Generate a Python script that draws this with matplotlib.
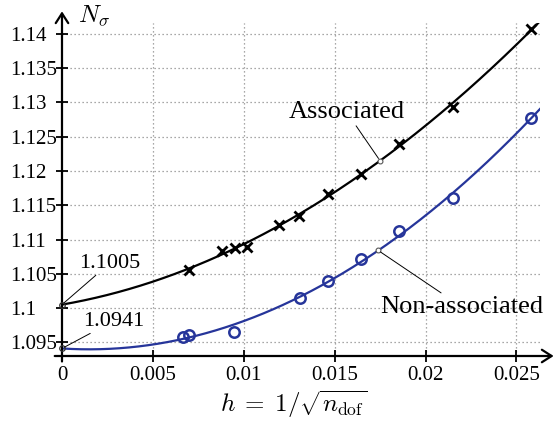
import numpy as np
import matplotlib
matplotlib.use("Agg")
import matplotlib.pyplot as plt

plt.rcParams["font.family"] = ["Liberation Serif", "DejaVu Serif"]
plt.rcParams["mathtext.fontset"] = "cm"

# Mesh size h = 1/sqrt(n_dof) and computed N_sigma values
h_assoc = [0.00699, 0.00882, 0.00952, 0.01016, 0.01194, 0.01305,
           0.01461, 0.01645, 0.01855, 0.02149, 0.02580]
n_assoc = [1.1056, 1.1083, 1.1088, 1.1089, 1.1121, 1.1134,
           1.1167, 1.1196, 1.1239, 1.1293, 1.1407]

h_nonassoc = [0.00664, 0.00699, 0.00948, 0.01309, 0.01461, 0.01645,
              0.01854, 0.02152, 0.02580]
n_nonassoc = [1.0958, 1.0961, 1.0965, 1.1014, 1.1040, 1.1072,
              1.1112, 1.1160, 1.1278]

# Extrapolated limits (h -> 0)
lim_assoc = 1.1005
lim_nonassoc = 1.0941

xticks = [0, 0.005, 0.01, 0.015, 0.02, 0.025]
xticklabels = ["0", "0.005", "0.01", "0.015", "0.02", "0.025"]
yticks = [1.095, 1.1, 1.105, 1.11, 1.115, 1.12, 1.125, 1.13, 1.135, 1.14]
yticklabels = ["1.095", "1.1", "1.105", "1.11", "1.115", "1.12",
               "1.125", "1.13", "1.135", "1.14"]

BLUE = "#26359a"


def fit_curve(h, n, n0, hh):
    """Quadratic least-squares fit with the intercept fixed at n0."""
    h = np.asarray(h)
    A = np.column_stack([h, h ** 2])
    coef, *_ = np.linalg.lstsq(A, np.asarray(n) - n0, rcond=None)
    return n0 + coef[0] * hh + coef[1] * hh ** 2


fig = plt.figure(figsize=(5.55, 4.21), dpi=100)
ax = fig.add_axes([0.1117, 0.1544, 0.973 - 0.1117, 0.9454 - 0.1544])

xmax = 0.0263
ymin, ymax = 1.093, 1.1416
ax.set_xlim(0, xmax)
ax.set_ylim(ymin, ymax)

hh = np.linspace(0, xmax, 300)
fa = fit_curve(h_assoc, n_assoc, lim_assoc, hh)
fn = fit_curve(h_nonassoc, n_nonassoc, lim_nonassoc, hh)

# grid
for x in xticks[1:]:
    ax.plot([x, x], [ymin, ymax], ls=(0, (1, 2.2)), color="#8c8c8c", lw=0.9, zorder=1)
for y in yticks:
    ax.plot([0, xmax], [y, y], ls=(0, (1, 2.2)), color="#8c8c8c", lw=0.9, zorder=1)

ax.plot(hh, fa, color="black", lw=1.6, zorder=3)
ax.plot(hh, fn, color=BLUE, lw=1.6, zorder=3)
ax.plot(h_assoc, n_assoc, ls="none", marker="x", ms=7.5, mew=2.0,
        color="black", zorder=4)
ax.plot(h_nonassoc, n_nonassoc, ls="none", marker="o", ms=7.5, mew=1.8,
        mfc="none", mec=BLUE, zorder=4)

# limit values at h = 0
for v, tx, ty in [(lim_assoc, 0.00264, 1.10657), (lim_nonassoc, 0.00282, 1.09809)]:
    ax.plot([0], [v], marker="o", ms=4, mfc="none", mec="#333333", mew=0.9,
            clip_on=False, zorder=6)
    ax.annotate(f"{v:.4f}", xy=(0, v), xytext=(tx, ty), fontsize=16,
                ha="center", va="center", zorder=6,
                arrowprops=dict(arrowstyle="-", lw=0.7, color="black",
                                shrinkA=0, shrinkB=2))

# curve labels
pa_x = 0.0175
pa_y = fit_curve(h_assoc, n_assoc, lim_assoc, np.array([pa_x]))[0]
ax.plot([pa_x], [pa_y], marker="o", ms=3.5, mfc="white", mec="#555555", mew=0.8, zorder=6)
ax.annotate("Associated", xy=(pa_x, pa_y), xytext=(0.01566, 1.1286), fontsize=19,
            ha="center", va="center", zorder=6,
            arrowprops=dict(arrowstyle="-", lw=0.7, color="black",
                            shrinkA=0, shrinkB=2))

pn_x = 0.0174
pn_y = fit_curve(h_nonassoc, n_nonassoc, lim_nonassoc, np.array([pn_x]))[0]
ax.plot([pn_x], [pn_y], marker="o", ms=3.5, mfc="white", mec="#555555", mew=0.8, zorder=6)
ax.annotate("Non-associated", xy=(pn_x, pn_y), xytext=(0.02198, 1.1002), fontsize=19,
            ha="center", va="center", zorder=6,
            arrowprops=dict(arrowstyle="-", lw=0.7, color="black",
                            shrinkA=0, shrinkB=2))

# axes with arrows
for s in ax.spines.values():
    s.set_visible(False)
ax.annotate("", xy=(0.02705, ymin), xytext=(-0.0004, ymin),
            xycoords="data", textcoords="data", annotation_clip=False,
            arrowprops=dict(arrowstyle="->,head_length=0.7,head_width=0.45",
                            lw=1.6, color="black", shrinkA=0, shrinkB=0))
ax.annotate("", xy=(0, 1.1433), xytext=(0, ymin - 0.0008),
            xycoords="data", textcoords="data", annotation_clip=False,
            arrowprops=dict(arrowstyle="->,head_length=0.7,head_width=0.45",
                            lw=1.6, color="black", shrinkA=0, shrinkB=0))

ax.set_xticks(xticks)
ax.set_xticklabels(xticklabels)
ax.set_yticks(yticks)
ax.set_yticklabels(yticklabels)
ax.tick_params(axis="both", direction="inout", length=9, width=1.3,
               labelsize=15, color="black")
ax.tick_params(axis="x", pad=3)
ax.tick_params(axis="y", pad=33)
for lab in ax.get_yticklabels():
    lab.set_horizontalalignment("left")

ax.text(0.00088, 1.1427, r"$N_\sigma$", fontsize=18, ha="left", va="center")
fig.text(294 / 555, 1 - 404 / 421, r"$h\;=\;1/\sqrt{n_{\mathrm{dof}}}$",
         fontsize=18, ha="center", va="center")

fig.savefig("out.png", dpi=100)
